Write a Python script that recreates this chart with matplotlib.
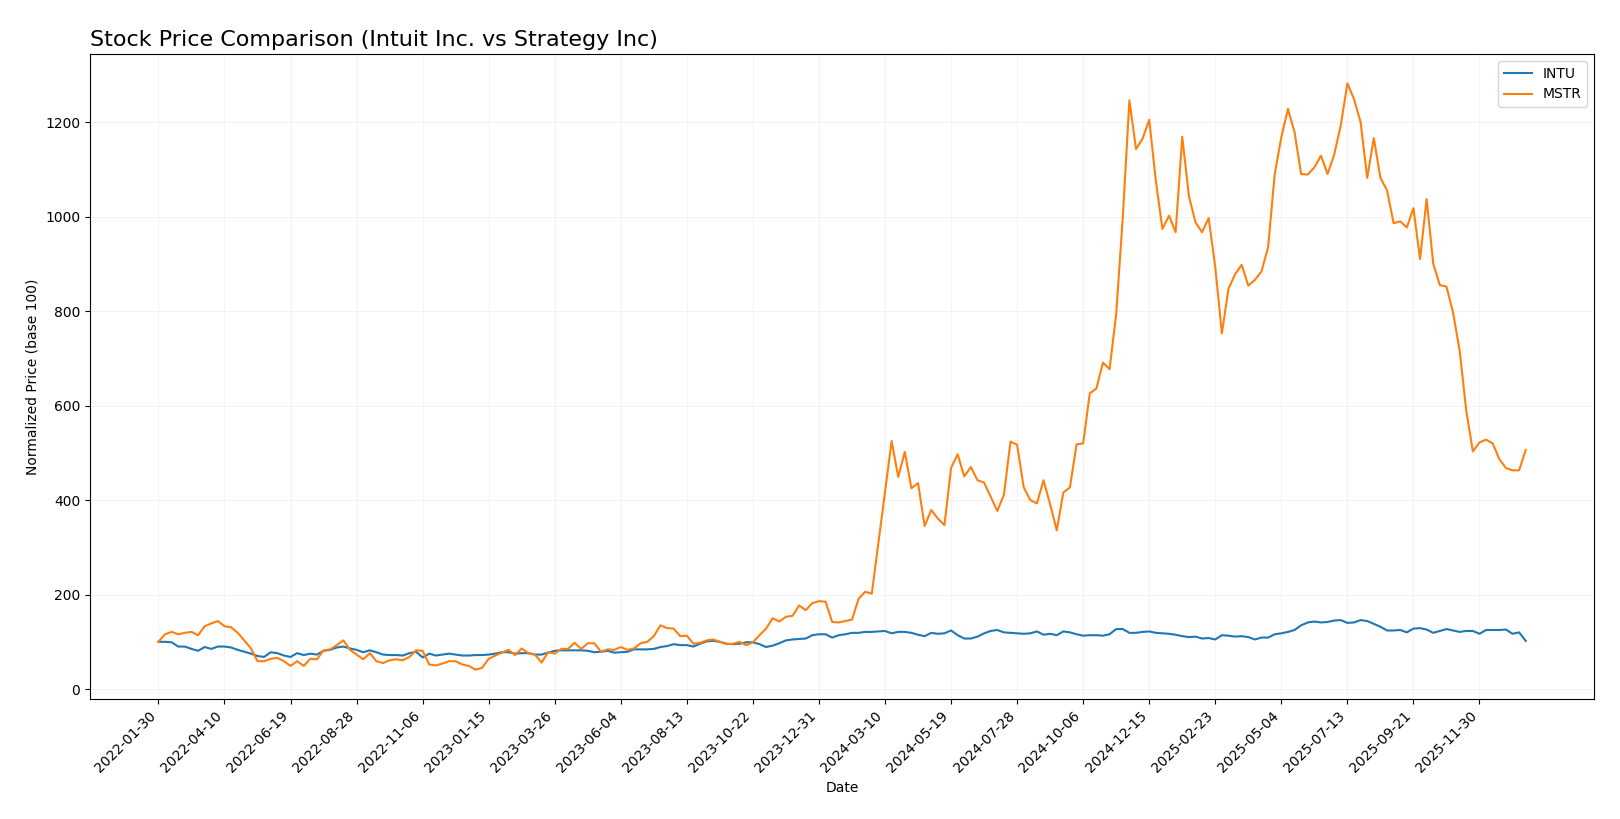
import matplotlib
matplotlib.use("Agg")
import matplotlib.pyplot as plt
import numpy as np
import pandas as pd

start_date = "2022-01-30"
n_weeks = 208

intu = [100,100,99,90,90,85,81,89,85,90,
        90,88,83,79,75,70,68,78,76,71,
        68,76,72,75,73,81,83,88,90,86,
        83,78,82,78,73,72,72,71,76,79,
        67,75,71,73,75,73,71,71,72,72,
        73,75,78,78,75,76,76,73,73,77,
        81,82,82,82,82,81,78,79,81,77,
        78,79,84,84,84,85,89,91,95,93,
        93,90,96,101,102,100,96,95,96,99,
        99,95,89,92,97,103,105,106,107,114,
        116,116,109,114,116,119,119,121,121,122,
        123,118,121,121,119,115,112,119,117,118,
        124,114,107,107,111,118,123,125,120,119,
        118,117,118,122,115,117,114,122,120,116,
        113,114,114,113,116,127,127,119,119,121,
        122,119,118,117,115,112,110,111,107,108,
        105,114,113,111,112,110,105,109,109,116,
        118,121,125,135,141,143,141,142,145,146,
        140,141,146,144,138,132,124,124,125,120,
        128,129,126,119,123,127,124,121,123,123,
        117,125,125,125,126,117,120,102]

mstr = [100,116,121,116,119,121,114,133,139,144,
        133,131,119,103,86,59,59,64,66,59,
        49,59,49,64,63,82,84,93,103,83,
        73,63,76,59,55,61,63,61,68,82,
        81,52,50,54,59,59,52,49,41,45,
        64,71,77,83,72,86,76,73,56,78,
        75,85,85,98,85,97,97,79,84,83,
        89,83,86,97,100,112,135,129,128,112,
        113,96,98,103,105,100,95,96,100,93,
        99,114,128,150,143,153,155,177,167,182,
        186,185,142,141,144,147,191,206,202,310,
        418,525,449,502,425,436,345,379,361,347,
        468,497,450,470,442,437,407,377,411,524,
        517,427,400,393,442,391,336,416,427,518,
        520,626,636,691,677,794,999,1246,1143,1165,
        1205,1076,974,1002,967,1169,1044,988,967,997,
        893,753,847,878,898,854,866,884,935,1090,
        1168,1228,1179,1090,1089,1104,1129,1090,1131,1193,
        1282,1249,1200,1082,1166,1082,1056,986,990,977,
        1018,910,1037,900,855,852,797,716,589,503,
        522,528,520,487,468,463,463,506]

tick_labels = ["2022-01-30","2022-04-10","2022-06-19","2022-08-28","2022-11-06",
               "2023-01-15","2023-03-26","2023-06-04","2023-08-13","2023-10-22",
               "2023-12-31","2024-03-10","2024-05-19","2024-07-28","2024-10-06",
               "2024-12-15","2025-02-23","2025-05-04","2025-07-13","2025-09-21",
               "2025-11-30"]

dates = pd.date_range(start_date, periods=n_weeks, freq="7D")

fig = plt.figure(figsize=(16.2, 8.19), dpi=100)
ax = fig.add_subplot(111)
fig.subplots_adjust(left=0.0556, right=0.9840, top=0.934, bottom=0.1465)

ax.plot(dates, intu, color="#1f77b4", linewidth=1.5, label="INTU")
ax.plot(dates, mstr, color="#ff7f0e", linewidth=1.5, label="MSTR")

ticks = pd.to_datetime(tick_labels)
ax.set_xticks(ticks)
ax.set_xticklabels(tick_labels, rotation=45, ha="right")

ax.set_title("Stock Price Comparison (Intuit Inc. vs Strategy Inc)", loc="left", fontsize=16)
ax.set_xlabel("Date")
ax.set_ylabel("Normalized Price (base 100)")
ax.grid(True, alpha=0.15)
ax.legend(loc="upper right")

fig.savefig("out.png", dpi=100)
